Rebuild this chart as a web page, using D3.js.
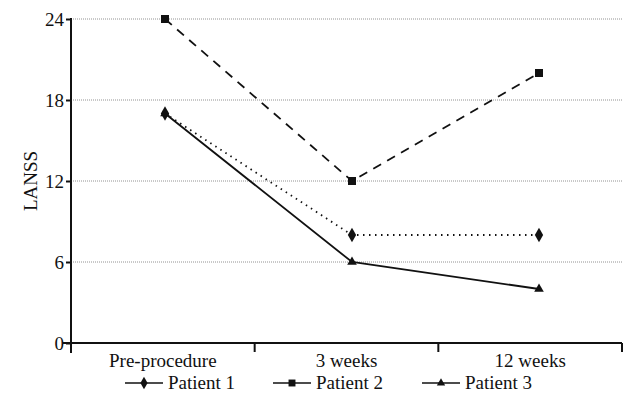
<!DOCTYPE html>
<html><head><meta charset="utf-8">
<script src="https://cdn.jsdelivr.net/npm/d3@7"></script>
<style>body{margin:0;background:#fff}svg{display:block}</style>
</head><body><svg id="c" width="631" height="401"></svg>
<script>
const categories = ["Pre-procedure", "3 weeks", "12 weeks"];
const patient1 = [17, 8, 8];
const patient2 = [24, 12, 20];
const patient3 = [17, 6, 4];
const yTicks = [0, 6, 12, 18, 24];
const seriesNames = ["Patient 1", "Patient 2", "Patient 3"];

const FONT = "'Liberation Serif', 'DejaVu Serif', serif";
const svg = d3.select("#c");
const L = 71, R = 622, T = 19, B = 343;
const y = d3.scaleLinear().domain([0, 24]).range([B, T]);
const xb = d3.scaleBand().domain(categories).range([L, R]);
const xp = d3.scalePoint().domain(categories).range([165, 539]);

// gridlines
svg.append("g").selectAll("line").data(yTicks.filter(d => d > 0)).join("line")
  .attr("x1", L).attr("x2", R).attr("y1", d => y(d)).attr("y2", d => y(d))
  .attr("stroke", "#777").attr("stroke-width", 0.8).attr("stroke-dasharray", "1,1");

// y axis
const ya = svg.append("g").attr("transform", `translate(${L},0)`)
  .call(d3.axisLeft(y).tickValues(yTicks).tickSize(5).tickPadding(2).tickSizeOuter(0));
ya.attr("font-family", FONT).attr("font-size", 19);
ya.select(".domain").remove();
ya.selectAll(".tick line").attr("stroke", "#111").attr("stroke-width", 2);
ya.selectAll(".tick text").attr("fill", "#111");
svg.append("line").attr("x1", L).attr("x2", L).attr("y1", T - 1).attr("y2", B + 10)
  .attr("stroke", "#111").attr("stroke-width", 2);

// x axis
svg.append("line").attr("x1", L - 8).attr("x2", R).attr("y1", B).attr("y2", B)
  .attr("stroke", "#111").attr("stroke-width", 2);
const bounds = categories.map(c => xb(c)).concat([xb(categories[2]) + xb.bandwidth()]).slice(1);
svg.append("g").selectAll("line").data(bounds).join("line")
  .attr("x1", d => d).attr("x2", d => d).attr("y1", B).attr("y2", B + 9)
  .attr("stroke", "#111").attr("stroke-width", 2);
svg.append("g").selectAll("text").data(categories).join("text")
  .attr("x", d => xb(d) + xb.bandwidth() / 2).attr("y", B + 24)
  .attr("text-anchor", "middle").attr("font-family", FONT).attr("font-size", 19)
  .attr("fill", "#111").text(d => d);

// y label
svg.append("text").attr("transform", `translate(37,${(T + B) / 2}) rotate(-90)`)
  .attr("text-anchor", "middle").attr("font-family", FONT).attr("font-size", 19)
  .attr("fill", "#111").text("LANSS");

const series = [
  {name: seriesNames[0], values: patient1, dash: "1.5,4.5", sym: d3.symbolDiamond, size: 60},
  {name: seriesNames[1], values: patient2, dash: "9,7", sym: d3.symbolSquare, size: 64},
  {name: seriesNames[2], values: patient3, dash: null, sym: d3.symbolTriangle, size: 40}
];
const line = d3.line().x((d, i) => xp(categories[i])).y(d => y(d));
series.forEach(s => {
  svg.append("path").attr("d", line(s.values)).attr("fill", "none")
    .attr("stroke", "#111").attr("stroke-width", 1.8)
    .attr("stroke-dasharray", s.dash);
  svg.append("g").selectAll("path").data(s.values).join("path")
    .attr("d", d3.symbol(s.sym, s.size))
    .attr("transform", (d, i) => `translate(${xp(categories[i])},${y(d)})`)
    .attr("fill", "#111");
});

// legend
const lx = [125, 273, 422];
series.forEach((s, i) => {
  const g = svg.append("g").attr("transform", `translate(${lx[i]},383)`);
  g.append("line").attr("x1", 0).attr("x2", 38).attr("stroke", "#111").attr("stroke-width", 1.3);
  g.append("path").attr("d", d3.symbol(s.sym, s.size * 0.75)).attr("transform", "translate(19,0)").attr("fill", "#111");
  g.append("text").attr("x", 43).attr("y", 6).attr("font-family", FONT).attr("font-size", 19)
    .attr("fill", "#111").text(s.name);
});
</script></body></html>
